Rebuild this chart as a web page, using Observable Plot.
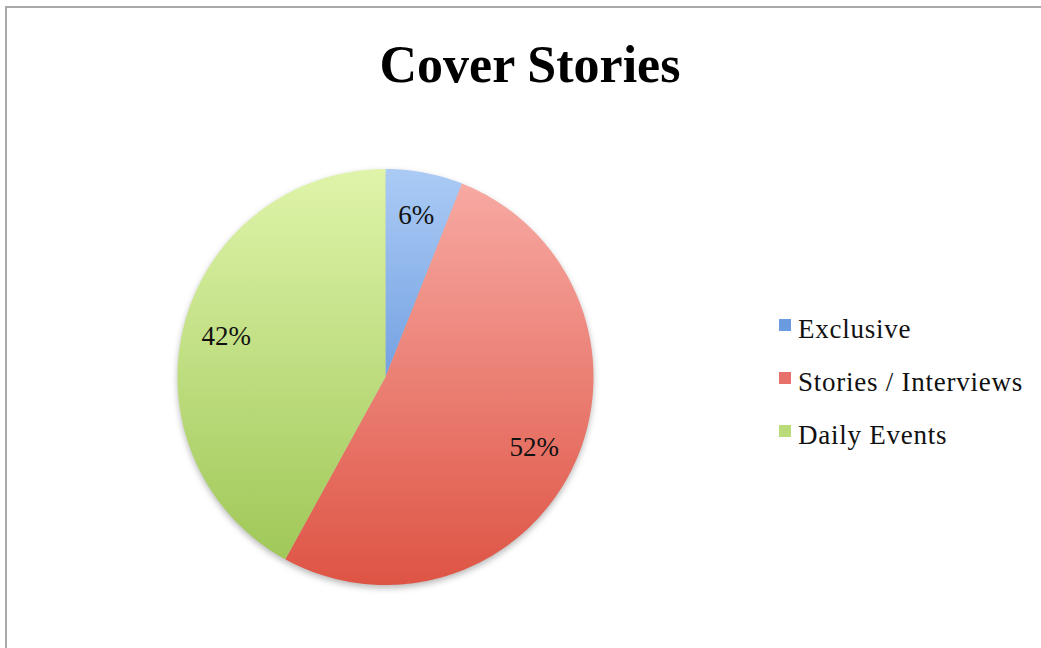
<!DOCTYPE html>
<html>
<head>
<meta charset="utf-8">
<script src="https://cdn.jsdelivr.net/npm/d3@7"></script>
<script src="https://cdn.jsdelivr.net/npm/@observablehq/plot@0.6"></script>
<style>
  html, body { margin: 0; padding: 0; background: #fff; }
  #frame { position: relative; width: 1041px; height: 648px; overflow: hidden; background: #fff; }
  #frame::before { content: ""; position: absolute; left: 5px; top: 6px; right: 0; bottom: 0;
    border-top: 2px solid #a9a9a9; border-left: 2px solid #a9a9a9; pointer-events: none; }
  #title { position: absolute; left: 0; width: 1060px; top: 83px; height: 0; text-align: center;
    font-family: "Liberation Serif", "Times New Roman", serif; font-weight: bold; font-size: 52px; color: #000; margin: 0; }
  #title span { display: inline-block; transform: translateY(-100%); line-height: 1; position: relative; top: 4px; }
  #chart { position: absolute; left: 0; top: 0; }
  #legend { position: absolute; left: 779px; top: 0; font-family: "Liberation Serif", "Times New Roman", serif;
    font-size: 27px; letter-spacing: 0.75px; color: #111; }
  .item { position: absolute; left: 0; white-space: nowrap; line-height: 1; }
  .sw { position: absolute; left: 0; width: 12px; height: 12px; }
  .lab { position: absolute; left: 19px; }
  svg g[aria-label="line"] { filter: drop-shadow(0px 3px 3px rgba(0,0,0,0.28)); }
</style>
</head>
<body>
<div id="frame">
  <div id="chart"></div>
  <h2 id="title"><span>Cover Stories</span></h2>
  <div id="legend"></div>
</div>
<script>
const categories = ["Exclusive", "Stories / Interviews", "Daily Events"];
const values = [6, 52, 42];
const labels = ["6%", "52%", "42%"];
const gradTop = ["#abcbf5", "#f8aca6", "#dff4aa"];
const gradBottom = ["#3e78cf", "#de5444", "#9cc553"];
const swatch = ["#6a9be0", "#e8706a", "#b9dc78"];

const pie = d3.pie().sort(null).value(d => d.value);
const rows = categories.map((c, i) => ({category: c, value: values[i], label: labels[i], idx: i}));
const arcs = pie(rows);

// polygon points of each slice (angles clockwise from 12 o'clock, y up)
const pts = [];
arcs.forEach(a => {
  const id = a.data.idx;
  pts.push({cat: a.data.category, fill: `url(#grad${id})`, x: 0, y: 0});
  const n = Math.max(4, Math.ceil((a.endAngle - a.startAngle) / (Math.PI / 180)));
  for (let k = 0; k <= n; k++) {
    const t = a.startAngle + (a.endAngle - a.startAngle) * k / n;
    pts.push({cat: a.data.category, fill: `url(#grad${id})`, x: Math.sin(t), y: Math.cos(t)});
  }
});

const labelPos = arcs.map(a => {
  const m = (a.startAngle + a.endAngle) / 2;
  const r = 0.79;
  return {label: a.data.label, x: r * Math.sin(m), y: r * Math.cos(m)};
});

function defsMark(index, scales) {
  const ns = "http://www.w3.org/2000/svg";
  const defs = document.createElementNS(ns, "defs");
  const yTop = scales.y(1), yBot = scales.y(-1);
  categories.forEach((c, i) => {
    const g = document.createElementNS(ns, "linearGradient");
    g.setAttribute("id", `grad${i}`);
    g.setAttribute("gradientUnits", "userSpaceOnUse");
    g.setAttribute("x1", 0); g.setAttribute("x2", 0);
    g.setAttribute("y1", yTop); g.setAttribute("y2", yBot);
    [[0, gradTop[i]], [1, gradBottom[i]]].forEach(([o, col]) => {
      const s = document.createElementNS(ns, "stop");
      s.setAttribute("offset", o);
      s.setAttribute("stop-color", col);
      g.appendChild(s);
    });
    defs.appendChild(g);
  });
  return defs;
}

const chart = Plot.plot({
  width: 1041,
  height: 648,
  x: {domain: [-1, 1], range: [177, 593], axis: null},
  y: {domain: [-1, 1], range: [584.5, 168.5], axis: null},
  color: {type: "identity"},
  style: {background: "transparent", overflow: "visible"},
  marks: [
    defsMark,
    Plot.line(pts, {x: "x", y: "y", z: "cat", fill: "fill", stroke: "none", curve: "linear-closed"}),
    Plot.text(labelPos, {x: "x", y: "y", text: "label", fill: "#111", fontSize: 27})
  ]
});
d3.select(chart).selectAll("text")
  .style("font-family", "'Liberation Serif', 'Times New Roman', serif");
document.getElementById("chart").appendChild(chart);

const legend = document.getElementById("legend");
categories.forEach((c, i) => {
  const it = document.createElement("div");
  it.className = "item";
  const base = 340 + i * 53;
  it.style.top = (base - 21) + "px";
  it.innerHTML = `<span class="sw" style="background:${swatch[i]};top:0px"></span><span class="lab" style="top:-3px">${c}</span>`;
  legend.appendChild(it);
});
</script>
</body>
</html>
